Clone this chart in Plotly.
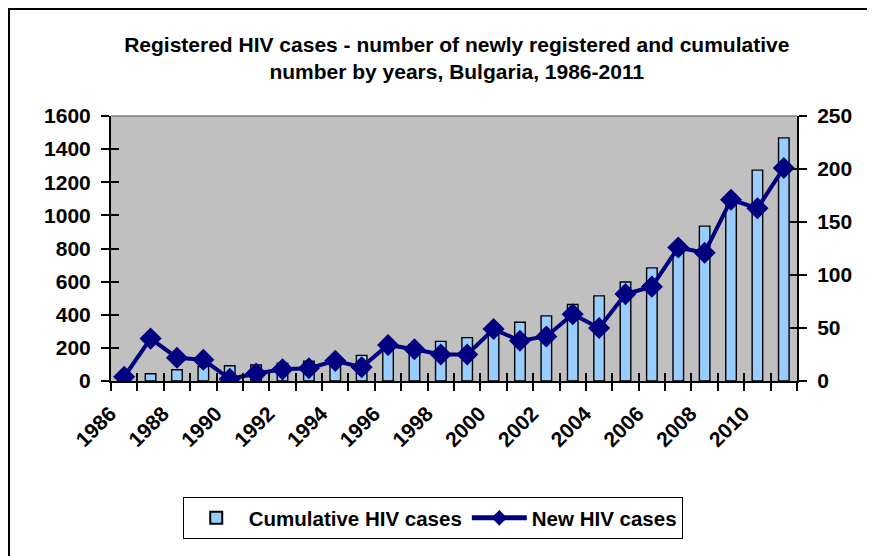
import plotly.graph_objects as go

years = list(range(1986, 2012))
cumulative = [4, 44, 68, 88, 92, 97, 108, 120, 139, 155, 186, 216, 239, 262, 310,
              355, 393, 462, 514, 598, 683, 808, 935, 1106, 1273, 1468]
new_cases = [4, 40, 22, 20, 2, 7, 11, 12, 19, 13, 34, 30, 25, 25, 49,
             38, 42, 63, 50, 82, 89, 126, 121, 171, 163, 201]
label_years = years[::2]
boundaries = [y - 0.5 for y in years] + [years[-1] + 0.5]

title_text = ("Registered HIV cases - number of newly registered and cumulative<br>"
              "number by years, Bulgaria, 1986-2011")

font_family = "Liberation Sans, Arial"

xr = [years[0] - 0.5, years[-1] + 0.5]

# page body adds an 8px offset; plot area in figure coords: x 103-789, y 108-373
L, T, PW, PH = 103, 108, 686, 265

fig = go.Figure()
fig.add_trace(go.Bar(x=years, y=cumulative, name="Cumulative HIV cases", width=0.4,
                     marker=dict(color="#99CCFF", line=dict(color="black", width=1.4)),
                     xaxis="x", yaxis="y"))
fig.add_trace(go.Scatter(x=years, y=new_cases, name="New HIV cases", mode="lines+markers",
                         line=dict(color="#000080", width=4),
                         marker=dict(symbol="diamond", size=17, color="#000080"),
                         xaxis="x", yaxis="y2"))
# helper traces to draw inner halves of crossing ticks
fig.add_trace(go.Scatter(x=[], y=[], xaxis="x3", yaxis="y", showlegend=False, hoverinfo="skip"))
fig.add_trace(go.Scatter(x=[], y=[], xaxis="x", yaxis="y3", showlegend=False, hoverinfo="skip"))
fig.add_trace(go.Scatter(x=[], y=[], xaxis="x", yaxis="y4", showlegend=False, hoverinfo="skip"))

tickfont = dict(family=font_family, size=21, color="black", weight="bold")

fig.update_layout(
    width=875, height=556, autosize=False,
    margin=dict(l=L, r=875 - L - PW, t=T, b=556 - T - PH),
    paper_bgcolor="white", plot_bgcolor="#C0C0C0",
    title=dict(text=title_text, x=0.504, xref="paper", xanchor="center",
               y=1 - 44 / 556, yref="container", yanchor="top",
               font=dict(family=font_family, size=21, color="black", weight="bold")),
    showlegend=True,
    legend=dict(orientation="h", x=0.469, xanchor="center", y=(T + PH - 489) / PH,
                yanchor="top",
                bordercolor="black", borderwidth=1, bgcolor="white",
                font=dict(family=font_family, size=20.5, color="black", weight="bold"),
                itemsizing="constant", tracegroupgap=0, itemwidth=55),
    bargap=0.6,
    xaxis=dict(range=xr, tickmode="array", tickvals=label_years,
               ticktext=[str(y) for y in label_years], tickangle=-45,
               ticks="", tickfont=tickfont, ticklabelstandoff=10, ticklabelshift=-14,
               showline=True, linecolor="black", linewidth=2, showgrid=False,
               zeroline=False, anchor="y",
               minor=dict(tickmode="array", tickvals=boundaries, ticks="outside",
                          ticklen=8, tickwidth=2, tickcolor="black", showgrid=False)),
    xaxis3=dict(range=xr, overlaying="x", anchor="y", tickmode="array",
                tickvals=boundaries, ticks="inside", ticklen=8, tickwidth=2,
                tickcolor="black", showticklabels=False, showline=False,
                showgrid=False, zeroline=False),
    yaxis=dict(range=[0, 1600], dtick=200, tick0=0, ticks="outside", ticklen=8,
               tickwidth=2, tickcolor="black", tickfont=tickfont, ticklabelstandoff=6,
               showline=True, linecolor="black", linewidth=2, showgrid=False,
               zeroline=False, anchor="x"),
    yaxis3=dict(range=[0, 1600], dtick=200, tick0=0, overlaying="y", side="left",
                anchor="x", ticks="inside", ticklen=8, tickwidth=2, tickcolor="black",
                showticklabels=False, showline=False, showgrid=False, zeroline=False),
    yaxis2=dict(range=[0, 250], dtick=50, tick0=0, overlaying="y", side="right",
                anchor="x", ticks="outside", ticklen=8, tickwidth=2, tickcolor="black",
                tickfont=tickfont, ticklabelstandoff=6,
                showline=True, linecolor="black", linewidth=2,
                showgrid=False, zeroline=False),
    yaxis4=dict(range=[0, 250], dtick=50, tick0=0, overlaying="y", side="right",
                anchor="x", ticks="inside", ticklen=8, tickwidth=2, tickcolor="black",
                showticklabels=False, showline=False, showgrid=False, zeroline=False),
    shapes=[
        dict(type="line", xref="paper", yref="paper", x0=0, x1=1, y0=1, y1=1,
             line=dict(color="#808080", width=1.5)),
        dict(type="line", xref="paper", yref="paper",
             x0=(0 - L) / PW, x1=(900 - L) / PW,
             y0=(T + PH - 1) / PH, y1=(T + PH - 1) / PH,
             line=dict(color="black", width=2)),
        dict(type="line", xref="paper", yref="paper",
             x0=(1 - L) / PW, x1=(1 - L) / PW,
             y0=(T + PH - 0) / PH, y1=(T + PH - 600) / PH,
             line=dict(color="black", width=2)),
    ],
)

fig.write_html("out.html")
